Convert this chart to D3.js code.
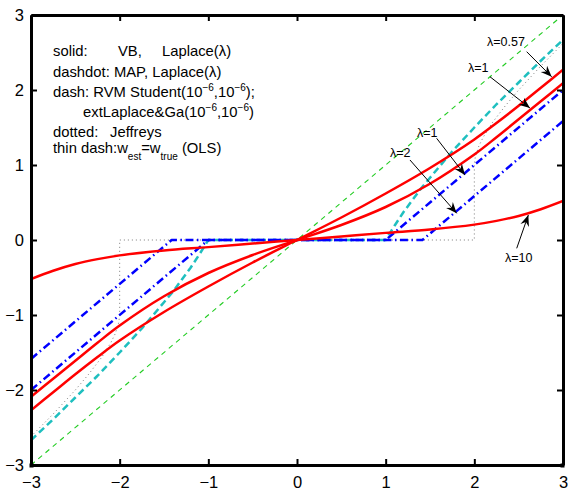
<!DOCTYPE html>
<html>
<head>
<meta charset="utf-8">
<script src="https://cdn.jsdelivr.net/npm/d3@7"></script>
<style>
  body { margin: 0; background: #fff; }
  svg { display: block; font-family: "Liberation Sans", Arial, sans-serif; }
</style>
</head>
<body>
<svg id="chart" width="568" height="490"></svg>
<script>
// ticks
const xTicks = [-3, -2, -1, 0, 1, 2, 3];
const yTicks = [-3, -2, -1, 0, 1, 2, 3];

// VB, Laplace(lambda) -- solid red
const vbX     = [-3, -2.75, -2.5, -2.25, -2, -1.5, -1, -0.5, 0, 0.5, 1, 1.5, 2, 2.25, 2.5, 2.75, 3];
const vbLam057 = [-2.27, -2.03, -1.79, -1.56, -1.34, -0.96, -0.62, -0.3, 0, 0.3, 0.62, 0.96, 1.34, 1.56, 1.79, 2.03, 2.27];
const vbLam1   = [-2.09, -1.85, -1.61, -1.37, -1.14, -0.75, -0.44, -0.2, 0, 0.2, 0.44, 0.75, 1.14, 1.37, 1.61, 1.85, 2.09];
const vbLam10  = [-0.52, -0.41, -0.32, -0.255, -0.205, -0.14, -0.095, -0.047, 0, 0.047, 0.095, 0.14, 0.205, 0.255, 0.32, 0.41, 0.52];

// MAP, Laplace(lambda) -- blue dashdot
const mapLam1X = [-3, -1, 1, 3];
const mapLam1Y = [-2, 0, 0, 2];
const mapLam2X = [-3, -1.414, 1.414, 3];
const mapLam2Y = [-1.586, 0, 0, 1.586];

// RVM Student -- cyan dash
const rvmX = [-3, -2.75, -2.5, -2.25, -2, -1.75, -1.5, -1.4, -1.3, -1.2, -1.1, -1, 1, 1.1, 1.2, 1.3, 1.4, 1.5, 1.75, 2, 2.25, 2.5, 2.75, 3];
const rvmY = [-2.67, -2.39, -2.1, -1.81, -1.5, -1.18, -0.83, -0.69, -0.53, -0.37, -0.19, 0, 0, 0.19, 0.37, 0.53, 0.69, 0.83, 1.18, 1.5, 1.81, 2.1, 2.39, 2.67];

// Jeffreys -- gray dotted
const jefX = [-3, -2.75, -2.5, -2.35, -2.2, -2.1, -2.05, -2.01, -2, -2, 2, 2, 2.01, 2.05, 2.1, 2.2, 2.35, 2.5, 2.75, 3];
const jefY = [-2.62, -2.32, -2.0, -1.79, -1.56, -1.37, -1.25, -1.1, -1, 0, 0, 1, 1.1, 1.25, 1.37, 1.56, 1.79, 2.0, 2.32, 2.62];

// OLS -- thin green dash
const olsX = [-3, 3];
const olsY = [-3, 3];

// curve labels with arrows: [labelX, labelY, fromX, fromY, toX, toY]
const arrowLabels = ["λ=0.57", "λ=1", "λ=1", "λ=2", "λ=10"];
const arrowPos = [
  [2.143, 2.587, 2.59, 2.511, 2.872, 2.177],
  [1.928, 2.244, 2.176, 2.177, 2.627, 1.76],
  [1.353, 1.377, 1.575, 1.356, 1.895, 0.867],
  [1.049, 1.111, 1.274, 1.067, 1.801, 0.356],
  [2.346, -0.289, 2.478, -0.111, 2.609, 0.333]
];

const svg = d3.select('#chart');
const plot = { left: 31, right: 563, top: 15, bottom: 465 };

const xScale = d3.scaleLinear().domain([-3, 3]).range([plot.left, plot.right]);
const yScale = d3.scaleLinear().domain([-3, 3]).range([plot.bottom, plot.top]);

svg.append('defs').append('clipPath').attr('id', 'clip')
  .append('rect')
  .attr('x', plot.left).attr('y', plot.top)
  .attr('width', plot.right - plot.left).attr('height', plot.bottom - plot.top);

const g = svg.append('g').attr('clip-path', 'url(#clip)');

const zip = (xs, ys) => xs.map((x, i) => [x, ys[i]]);
const lin = d3.line().x(d => xScale(d[0])).y(d => yScale(d[1]));
const smooth = d3.line().x(d => xScale(d[0])).y(d => yScale(d[1])).curve(d3.curveCatmullRom.alpha(0.5));

function drawLine(pts, gen, color, width, dash) {
  g.append('path')
    .attr('d', gen(pts))
    .attr('fill', 'none')
    .attr('stroke', color)
    .attr('stroke-width', width)
    .attr('stroke-dasharray', dash)
    .attr('stroke-linejoin', 'round');
}

// draw order: thin first, solid red on top
drawLine(zip(olsX, olsY), lin, '#22cc22', 1.1, '5,4.5');
drawLine(zip(jefX, jefY), lin, '#7a7a7a', 1, '1,3');
drawLine(zip(rvmX, rvmY), lin, '#1fbfbf', 2.5, '7,4');
drawLine(zip(mapLam1X, mapLam1Y), lin, '#0000ff', 2.5, '8,3.5,1.5,3.5');
drawLine(zip(mapLam2X, mapLam2Y), lin, '#0000ff', 2.5, '8,3.5,1.5,3.5');
drawLine(zip(vbX, vbLam057), smooth, '#ff0000', 2.5, null);
drawLine(zip(vbX, vbLam1), smooth, '#ff0000', 2.5, null);
drawLine(zip(vbX, vbLam10), smooth, '#ff0000', 2.5, null);

// axes (box with inward ticks on all sides)
const tickLen = 6;
const fmt = d => d < 0 ? '\u2212' + Math.abs(d) : d;
const xAxisB = d3.axisBottom(xScale).tickValues(xTicks).tickSizeInner(-tickLen).tickSizeOuter(0).tickFormat(fmt);
const xAxisT = d3.axisTop(xScale).tickValues(xTicks).tickSizeInner(-tickLen).tickSizeOuter(0).tickFormat('');
const yAxisL = d3.axisLeft(yScale).tickValues(yTicks).tickSizeInner(-tickLen).tickSizeOuter(0).tickFormat(fmt);
const yAxisR = d3.axisRight(yScale).tickValues(yTicks).tickSizeInner(-tickLen).tickSizeOuter(0).tickFormat('');

function styleAxis(sel) {
  sel.select('.domain').attr('stroke', '#000').attr('stroke-width', 3);
  sel.selectAll('.tick line').attr('stroke', '#000').attr('stroke-width', 2);
  sel.selectAll('.tick text').attr('fill', '#000').attr('font-size', 16.5)
    .attr('font-family', '"Liberation Sans", Arial, sans-serif');
}

svg.append('g').attr('transform', `translate(0,${plot.bottom})`).call(xAxisB).call(styleAxis)
  .selectAll('.tick text').attr('y', 11).attr('dy', '0.71em');
svg.append('g').attr('transform', `translate(0,${plot.top})`).call(xAxisT).call(styleAxis);
svg.append('g').attr('transform', `translate(${plot.left},0)`).call(yAxisL).call(styleAxis)
  .selectAll('.tick text').attr('x', -7);
svg.append('g').attr('transform', `translate(${plot.right},0)`).call(yAxisR).call(styleAxis);

// corner squares
svg.append('rect').attr('x', plot.left - 1.5).attr('y', plot.bottom - 1.5).attr('width', 4).attr('height', 4).attr('fill', '#000');
svg.append('rect').attr('x', plot.right - 2.5).attr('y', plot.bottom - 1.5).attr('width', 4).attr('height', 4).attr('fill', '#000');

// arrows
svg.select('defs').append('marker')
  .attr('id', 'head').attr('viewBox', '-12 -6 14 12')
  .attr('markerWidth', 14).attr('markerHeight', 12)
  .attr('refX', 0).attr('refY', 0)
  .attr('orient', 'auto').attr('markerUnits', 'userSpaceOnUse')
  .append('path').attr('d', 'M0,0 L-11,-4.5 L-7.5,0 L-11,4.5 Z').attr('fill', '#000');

const ann = svg.append('g');
arrowPos.forEach((p, i) => {
  ann.append('line')
    .attr('x1', xScale(p[2])).attr('y1', yScale(p[3]))
    .attr('x2', xScale(p[4])).attr('y2', yScale(p[5]))
    .attr('stroke', '#000').attr('stroke-width', 1)
    .attr('marker-end', 'url(#head)');
  ann.append('text')
    .attr('x', xScale(p[0])).attr('y', yScale(p[1]))
    .attr('font-size', 12.5).attr('fill', '#000')
    .text(arrowLabels[i]);
});

// legend text
const leg = svg.append('g').attr('font-size', 14.8).attr('fill', '#000');

leg.append('text').attr('x', 53).attr('y', 56).text('solid:');
leg.append('text').attr('x', 118).attr('y', 56).text('VB,');
leg.append('text').attr('x', 162).attr('y', 56).text('Laplace(λ)');

leg.append('text').attr('x', 53).attr('y', 76.5).text('dashdot: MAP, Laplace(λ)');

let t3 = leg.append('text').attr('x', 53).attr('y', 97);
t3.append('tspan').text('dash: RVM  Student(10');
t3.append('tspan').attr('font-size', 10).attr('dy', -6).text('\u22126');
t3.append('tspan').attr('dy', 6).text(',10');
t3.append('tspan').attr('font-size', 10).attr('dy', -6).text('\u22126');
t3.append('tspan').attr('dy', 6).text(');');

let t4 = leg.append('text').attr('x', 83).attr('y', 117);
t4.append('tspan').text('extLaplace&Ga(10');
t4.append('tspan').attr('font-size', 10).attr('dy', -6).text('\u22126');
t4.append('tspan').attr('dy', 6).text(',10');
t4.append('tspan').attr('font-size', 10).attr('dy', -6).text('\u22126');
t4.append('tspan').attr('dy', 6).text(')');

leg.append('text').attr('x', 53).attr('y', 136.5).text('dotted:');
leg.append('text').attr('x', 110).attr('y', 136.5).text('Jeffreys');

let t6 = leg.append('text').attr('x', 53).attr('y', 153);
t6.append('tspan').text('thin dash:w');
t6.append('tspan').attr('font-size', 10).attr('dy', 7).text('est');
t6.append('tspan').attr('dy', -7).text('=w');
t6.append('tspan').attr('font-size', 10).attr('dy', 7).text('true');
t6.append('tspan').attr('dy', -7).text(' (OLS)');
</script>
</body>
</html>
